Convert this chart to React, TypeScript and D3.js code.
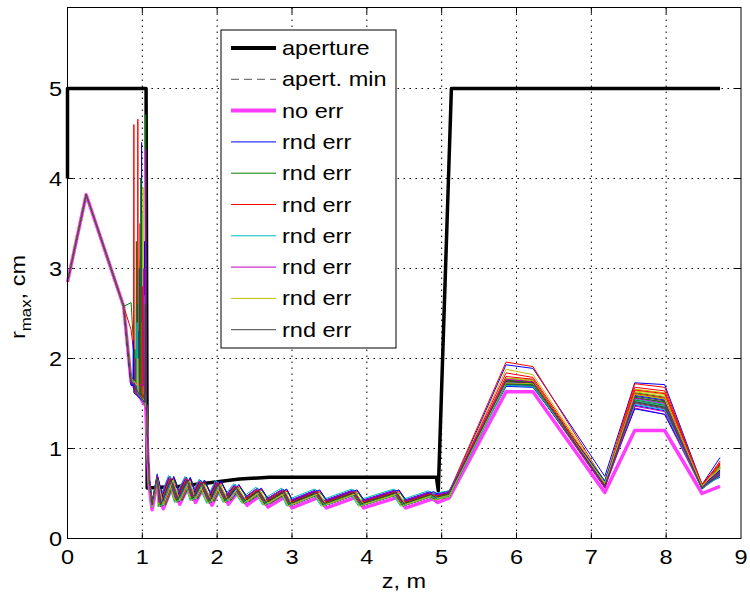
import React from 'react';
import * as d3 from 'd3';

const W = 750;
const H = 599;
const PLOT = { left: 67.5, right: 741, top: 7.5, bottom: 538.5 };

const xTicks = [0, 1, 2, 3, 4, 5, 6, 7, 8, 9];
const yTicks = [0, 1, 2, 3, 4, 5];

// aperture (thick black)
const apertureZ = [0, 0, 1.05, 1.065, 1.5, 1.9, 2.3, 2.7, 4.93, 4.955, 5.13, 8.72];
const apertureR = [4.0, 5.0, 5.0, 0.56, 0.58, 0.62, 0.66, 0.68, 0.68, 0.53, 5.0, 5.0];

// no err (thick magenta)
const noErrZ = [0, 0.25, 0.75, 0.85, 1.02, 1.045, 1.09, 1.13, 1.2, 1.28, 1.41, 1.5, 1.63, 1.71, 1.82, 1.93, 2.04, 2.15, 2.28, 2.4, 2.58, 2.68, 2.92, 3.0, 3.36, 3.46, 3.86, 3.96, 4.42, 4.52, 4.88, 4.95, 5.1, 5.86, 6.22, 7.18, 7.58, 7.98, 8.48, 8.72];
const noErrR = [2.85, 3.82, 2.58, 1.74, 1.5, 1.48, 0.6, 0.32, 0.62, 0.33, 0.6, 0.38, 0.6, 0.4, 0.57, 0.37, 0.56, 0.38, 0.52, 0.37, 0.48, 0.35, 0.47, 0.34, 0.46, 0.34, 0.46, 0.34, 0.46, 0.34, 0.44, 0.4, 0.45, 1.63, 1.63, 0.51, 1.2, 1.2, 0.5, 0.58];

// shared start of every random-error run
const preZ = [0, 0.25, 0.75];
const preR = [2.85, 3.82, 2.58];

// oscillating transport section of the random-error runs
const oscFixedZ = [1.09, 1.13, 1.2];
const oscFixedR = [0.62, 0.33, 0.64];
const oscZ = [1.28, 1.41, 1.5, 1.63, 1.71, 1.82, 1.93, 2.04, 2.15, 2.28, 2.4, 2.58, 2.68, 2.92, 3.0, 3.36, 3.46, 3.86, 3.96, 4.42, 4.52, 4.88, 4.95];
const oscR = [0.34, 0.62, 0.39, 0.61, 0.41, 0.58, 0.38, 0.57, 0.39, 0.53, 0.38, 0.49, 0.36, 0.48, 0.35, 0.47, 0.35, 0.47, 0.35, 0.47, 0.35, 0.45, 0.42];

// per-run values (random errors)
const r085 = [1.72, 1.78, 2.32, 1.75, 1.74, 1.8, 1.76, 1.7, 2.62, 1.77, 1.73, 1.79, 1.75, 1.71, 1.74, 1.78, 1.76, 1.73, 1.72, 1.77, 1.75, 1.71, 1.79, 1.74, 1.76, 1.73, 1.78, 1.75];
const spikeZ = [0.99, 1.045, 0.94, 1.0, 1.045, 0.97, 0.93, 0.95, 0.92, 0.887, 0.96, 0.98, 1.01, 1.02, 1.03, 0.9, 0.97, 1.03, 0.91, 0.99, 0.96, 0.88, 0.98, 1.0, 0.93, 1.02, 0.94, 1.04];
const spikeR = [4.4, 4.71, 4.66, 3.6, 4.32, 3.1, 2.6, 2.3, 3.3, 4.6, 2.9, 2.5, 3.9, 2.2, 3.3, 2.1, 3.5, 2.7, 2.0, 2.4, 3.0, 2.2, 4.0, 2.8, 2.4, 3.0, 2.0, 2.6];
const r103 = [1.5, 1.53, 1.55, 1.52, 1.49, 1.56, 1.51, 1.54, 1.5, 1.53, 1.57, 1.52, 1.5, 1.55, 1.51, 1.54, 1.52, 1.56, 1.5, 1.53, 1.55, 1.51, 1.54, 1.52, 1.5, 1.56, 1.53, 1.51];
const dzRun = [-0.02, -0.06, 0.01, -0.07, -0.03, -0.05, -0.01, -0.04, -0.06, 0.02, -0.03, -0.02, -0.07, -0.04, -0.05, 0.03, -0.04, -0.06, -0.01, -0.05, -0.02, 0.01, -0.04, -0.03, -0.02, -0.06, 0.0, -0.03];
const drRun = [0.04, 0.02, 0.06, 0.01, 0.03, 0.05, 0.02, 0.07, 0.03, 0.05, 0.06, 0.02, 0.04, 0.01, 0.06, 0.03, 0.05, 0.08, 0.02, 0.01, 0.04, 0.07, 0.03, 0.05, 0.02, 0.06, 0.03, 0.04];
const rightZ = [5.1, 5.86, 6.22, 7.18, 7.58, 7.98, 8.48, 8.72];
const r510 = [0.5, 0.48, 0.52, 0.47, 0.49, 0.5, 0.46, 0.53, 0.48, 0.5, 0.51, 0.47, 0.49, 0.46, 0.52, 0.48, 0.5, 0.53, 0.47, 0.46, 0.49, 0.51, 0.48, 0.5, 0.47, 0.52, 0.48, 0.5];
const p586 = [1.93, 1.74, 1.96, 1.76, 1.72, 1.88, 1.75, 1.7, 1.78, 1.84, 1.73, 1.71, 1.77, 1.74, 1.69, 1.76, 1.75, 1.72, 1.73, 1.78, 1.71, 1.74, 1.72, 1.8, 1.7, 1.77, 1.73, 1.75];
const p622 = [1.89, 1.73, 1.91, 1.74, 1.7, 1.82, 1.74, 1.69, 1.76, 1.79, 1.72, 1.7, 1.75, 1.73, 1.68, 1.74, 1.72, 1.71, 1.72, 1.76, 1.7, 1.72, 1.71, 1.77, 1.69, 1.74, 1.72, 1.73];
const v718 = [0.69, 0.6, 0.63, 0.62, 0.57, 0.64, 0.59, 0.61, 0.58, 0.62, 0.6, 0.56, 0.63, 0.59, 0.62, 0.57, 0.61, 0.6, 0.58, 0.63, 0.59, 0.64, 0.58, 0.6, 0.62, 0.57, 0.61, 0.59];
const p758 = [1.73, 1.52, 1.72, 1.6, 1.45, 1.66, 1.56, 1.48, 1.62, 1.68, 1.55, 1.5, 1.64, 1.58, 1.44, 1.57, 1.61, 1.53, 1.47, 1.63, 1.51, 1.59, 1.54, 1.65, 1.49, 1.56, 1.6, 1.52];
const p798 = [1.71, 1.46, 1.68, 1.55, 1.38, 1.62, 1.52, 1.42, 1.57, 1.64, 1.49, 1.44, 1.6, 1.53, 1.38, 1.51, 1.56, 1.47, 1.41, 1.58, 1.45, 1.54, 1.48, 1.61, 1.43, 1.5, 1.55, 1.46];
const v848 = [0.6, 0.56, 0.58, 0.57, 0.55, 0.59, 0.57, 0.56, 0.58, 0.6, 0.55, 0.57, 0.58, 0.56, 0.59, 0.55, 0.58, 0.57, 0.56, 0.59, 0.57, 0.58, 0.55, 0.6, 0.56, 0.57, 0.58, 0.56];
const e872 = [0.9, 0.78, 0.82, 0.74, 0.7, 0.8, 0.76, 0.72, 0.79, 0.84, 0.73, 0.71, 0.77, 0.75, 0.68, 0.81, 0.86, 0.74, 0.72, 0.78, 0.7, 0.76, 0.74, 0.83, 0.69, 0.75, 0.79, 0.73];

const runColors = ['#0000ff', '#008000', '#ff0000', '#00bfbf', '#bf00bf', '#bfbf00', '#404040'];

const legendLabels = ['aperture', 'apert. min', 'no err', 'rnd err', 'rnd err', 'rnd err', 'rnd err', 'rnd err', 'rnd err', 'rnd err'];

const FONT = "'Liberation Sans', Arial, Helvetica, sans-serif";
const SX = 1.12;

export default function App() {
  const x = d3.scaleLinear().domain([0, 9]).range([PLOT.left, PLOT.right]);
  const y = d3.scaleLinear().domain([0, 5.9]).range([PLOT.bottom, PLOT.top]);
  const line = d3.line<[number, number]>().x(d => x(d[0])).y(d => y(d[1]));

  const zip = (zs: number[], rs: number[]) => zs.map((z, i) => [z, rs[i]] as [number, number]);

  const runs = spikeZ.map((sz, i) => {
    const pts: [number, number][] = [];
    preZ.forEach((z, k) => pts.push([z, preR[k]]));
    pts.push([0.85, r085[i]]);
    pts.push([sz - 0.006, 1.7]);
    pts.push([sz, spikeR[i]]);
    pts.push([sz + 0.006, 1.62]);
    pts.push([1.03, r103[i]]);
    pts.push([1.055, 1.45]);
    oscFixedZ.forEach((z, k) => pts.push([z, oscFixedR[k] + drRun[i]]));
    oscZ.forEach((z, k) => pts.push([z + dzRun[i], oscR[k] + drRun[i]]));
    const rv = [r510[i], p586[i], p622[i], v718[i], p758[i], p798[i], v848[i], e872[i]];
    rightZ.forEach((z, k) => pts.push([z, rv[k]]));
    pts.sort((a, b) => a[0] - b[0]);
    return { d: line(pts) as string, color: runColors[i % runColors.length] };
  });

  const gridX = xTicks.filter(t => t > 0 && t < 9);
  const gridY = yTicks.filter(t => t > 0);
  const tickLen = 6;

  const legX = 221, legY = 30, legW = 175, legH = 318;
  const legRow0 = 48, legStep = 31.3;

  return (
    <svg width={W} height={H} style={{ position: 'absolute', left: 0, top: 0 }} fontFamily={FONT}>
      <rect x={0} y={0} width={W} height={H} fill="#fff" />
      {/* grid */}
      <g stroke="#000" strokeWidth={1} strokeDasharray="1.5,4.5">
        {gridX.map(t => (
          <line key={'gx' + t} x1={x(t)} x2={x(t)} y1={PLOT.top} y2={PLOT.bottom} />
        ))}
        {gridY.map(t => (
          <line key={'gy' + t} x1={PLOT.left} x2={PLOT.right} y1={y(t)} y2={y(t)} />
        ))}
      </g>
      {/* ticks */}
      <g stroke="#000" strokeWidth={1}>
        {gridX.map(t => (
          <g key={'tx' + t}>
            <line x1={x(t)} x2={x(t)} y1={PLOT.bottom} y2={PLOT.bottom - tickLen} />
            <line x1={x(t)} x2={x(t)} y1={PLOT.top} y2={PLOT.top + tickLen} />
          </g>
        ))}
        {gridY.map(t => (
          <g key={'ty' + t}>
            <line x1={PLOT.left} x2={PLOT.left + tickLen} y1={y(t)} y2={y(t)} />
            <line x1={PLOT.right} x2={PLOT.right - tickLen} y1={y(t)} y2={y(t)} />
          </g>
        ))}
      </g>
      {/* aperture */}
      <path d={line(zip(apertureZ, apertureR)) as string} fill="none" stroke="#000" strokeWidth={3.5} strokeLinejoin="round" />
      {/* no err */}
      <path d={line(zip(noErrZ, noErrR)) as string} fill="none" stroke="#ff3cff" strokeWidth={3.5} strokeLinejoin="round" />
      {/* random error runs */}
      <g fill="none" strokeWidth={1} strokeLinejoin="round">
        {runs.map((r, i) => (
          <path key={'run' + i} d={r.d} stroke={r.color} />
        ))}
      </g>
      {/* axes box */}
      <rect x={PLOT.left} y={PLOT.top} width={PLOT.right - PLOT.left} height={PLOT.bottom - PLOT.top} fill="none" stroke="#000" strokeWidth={1} />
      {/* tick labels */}
      <g fontSize={21} fill="#000">
        {xTicks.map(t => (
          <text key={'lx' + t} transform={`translate(${x(t)},564) scale(${SX},1)`} textAnchor="middle">{t}</text>
        ))}
        {yTicks.map(t => (
          <text key={'ly' + t} transform={`translate(62,${y(t) + 7.5}) scale(${SX},1)`} textAnchor="end">{t}</text>
        ))}
        <text transform={`translate(404,588) scale(${SX},1)`} textAnchor="middle">z, m</text>
        <text transform={`translate(25,297) rotate(-90) scale(${SX},1)`} textAnchor="middle">
          r<tspan fontSize={15} dy={6}>max</tspan><tspan dy={-6}>, cm</tspan>
        </text>
      </g>
      {/* legend */}
      <g>
        <rect x={legX} y={legY} width={legW} height={legH} fill="#fff" stroke="#000" strokeWidth={1} />
        {legendLabels.map((lab, i) => {
          const cy = legRow0 + i * legStep;
          let stroke = '#000';
          let sw = 1;
          let dash: string | undefined;
          if (i === 0) { stroke = '#000'; sw = 4; }
          else if (i === 1) { stroke = '#555'; sw = 1; dash = '8,5'; }
          else if (i === 2) { stroke = '#ff3cff'; sw = 4; }
          else { stroke = runColors[(i - 3) % runColors.length]; sw = 1; }
          return (
            <g key={'leg' + i}>
              <line x1={231} x2={276} y1={cy} y2={cy} stroke={stroke} strokeWidth={sw} strokeDasharray={dash} />
              <text transform={`translate(282,${cy + 7}) scale(${SX},1)`} fontSize={21} fill="#000">{lab}</text>
            </g>
          );
        })}
      </g>
    </svg>
  );
}
